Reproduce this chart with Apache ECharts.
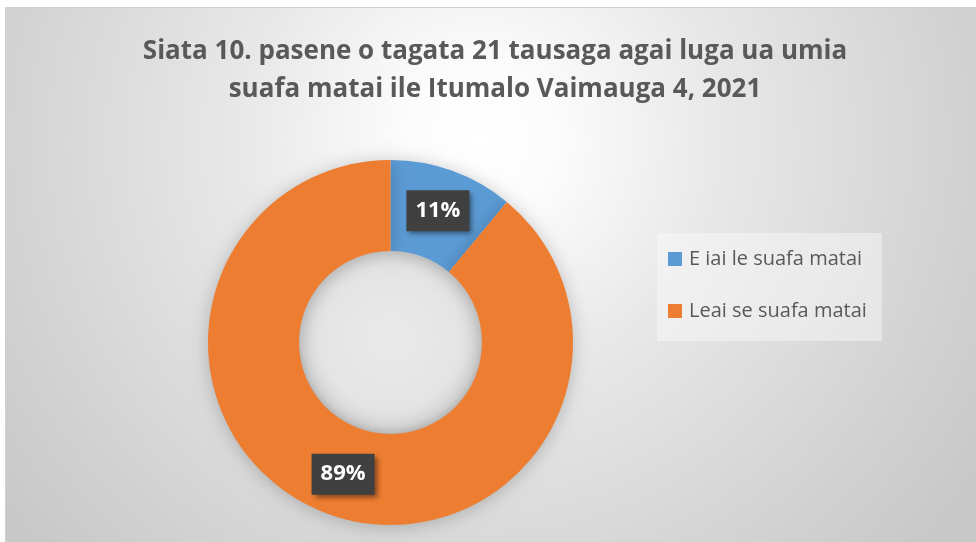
<!DOCTYPE html>
<html>
<head>
<meta charset="utf-8">
<script src="https://cdn.jsdelivr.net/npm/echarts@6/dist/echarts.min.js"></script>
<style>
html,body{margin:0;padding:0;background:#fff;}
#main{width:976px;height:542px;}
</style>
</head>
<body>
<div id="main"></div>
<script>
const titleLines = ['Siata 10. pasene o tagata 21 tausaga agai luga ua umia', 'suafa matai ile Itumalo Vaimauga 4, 2021'];
const categories = ['E iai le suafa matai', 'Leai se suafa matai'];
const values = [11, 89];
const colors = ['#5b9bd5', '#ed7d31'];

const chart = echarts.init(document.getElementById('main'), null, {renderer: 'canvas'});
const FONT = '"Open Sans", "Noto Sans", sans-serif';

chart.setOption({
  animation: false,
  graphic: [
    {
      type: 'rect', z: -10, silent: true,
      shape: {x: 5.5, y: 7.5, width: 975, height: 540},
      style: {
        fill: {
          type: 'radial', x: 480, y: 140, r: 600, global: true,
          colorStops: [
            {offset: 0, color: '#ffffff'},
            {offset: 0.12, color: '#fcfcfc'},
            {offset: 0.4, color: '#e8e8e8'},
            {offset: 0.8, color: '#d2d2d2'},
            {offset: 1, color: '#c8c8c8'}
          ]
        },
        stroke: '#d0d0d0', lineWidth: 1
      }
    },
    {
      type: 'circle', z: -6, silent: true,
      shape: {cx: 390.5, cy: 342.5, r: 92},
      style: {
        fill: {
          type: 'radial', x: 390.5, y: 338, r: 96, global: true,
          colorStops: [
            {offset: 0, color: '#eaeaea'},
            {offset: 0.75, color: '#e4e4e4'},
            {offset: 0.92, color: '#d9d9d9'},
            {offset: 1, color: '#c9c9c9'}
          ]
        }
      }
    },
    {
      type: 'rect', z: -5, silent: true,
      shape: {x: 657, y: 233, width: 225, height: 108},
      style: {fill: 'rgba(250,250,250,0.45)'}
    }
  ],
  title: {
    text: titleLines.join('\n'),
    left: 490, top: 28, textAlign: 'center',
    textStyle: {
      fontFamily: FONT, fontSize: 26, fontWeight: 'bold',
      color: '#595959', lineHeight: 38
    }
  },
  legend: {
    orient: 'vertical',
    left: 668, top: 249,
    padding: 0,
    icon: 'rect',
    itemWidth: 14, itemHeight: 14, itemGap: 32,
    data: categories,
    textStyle: {fontFamily: FONT, fontSize: 20, color: '#595959', padding: [0, 0, 0, 2]}
  },
  series: [{
    type: 'pie',
    center: [390.5, 342.5],
    radius: [91.5, 182.5],
    startAngle: 90,
    clockwise: true,
    color: colors,
    itemStyle: {
      borderWidth: 0,
      shadowBlur: 18,
      shadowColor: 'rgba(0,0,0,0.22)',
      shadowOffsetX: 0, shadowOffsetY: 2
    },
    emphasis: {disabled: true},
    label: {
      show: true,
      position: 'inside',
      formatter: '{c}%',
      fontFamily: FONT,
      fontSize: 22, fontWeight: 'bold',
      color: '#ffffff',
      lineHeight: 25,
      backgroundColor: '#404040',
      padding: [8, 9],
      shadowBlur: 5, shadowOffsetX: 3, shadowOffsetY: 3,
      shadowColor: 'rgba(0,0,0,0.45)'
    },
    labelLine: {show: false},
    data: categories.map((n, i) => ({name: n, value: values[i]}))
  }]
});
</script>
</body>
</html>
